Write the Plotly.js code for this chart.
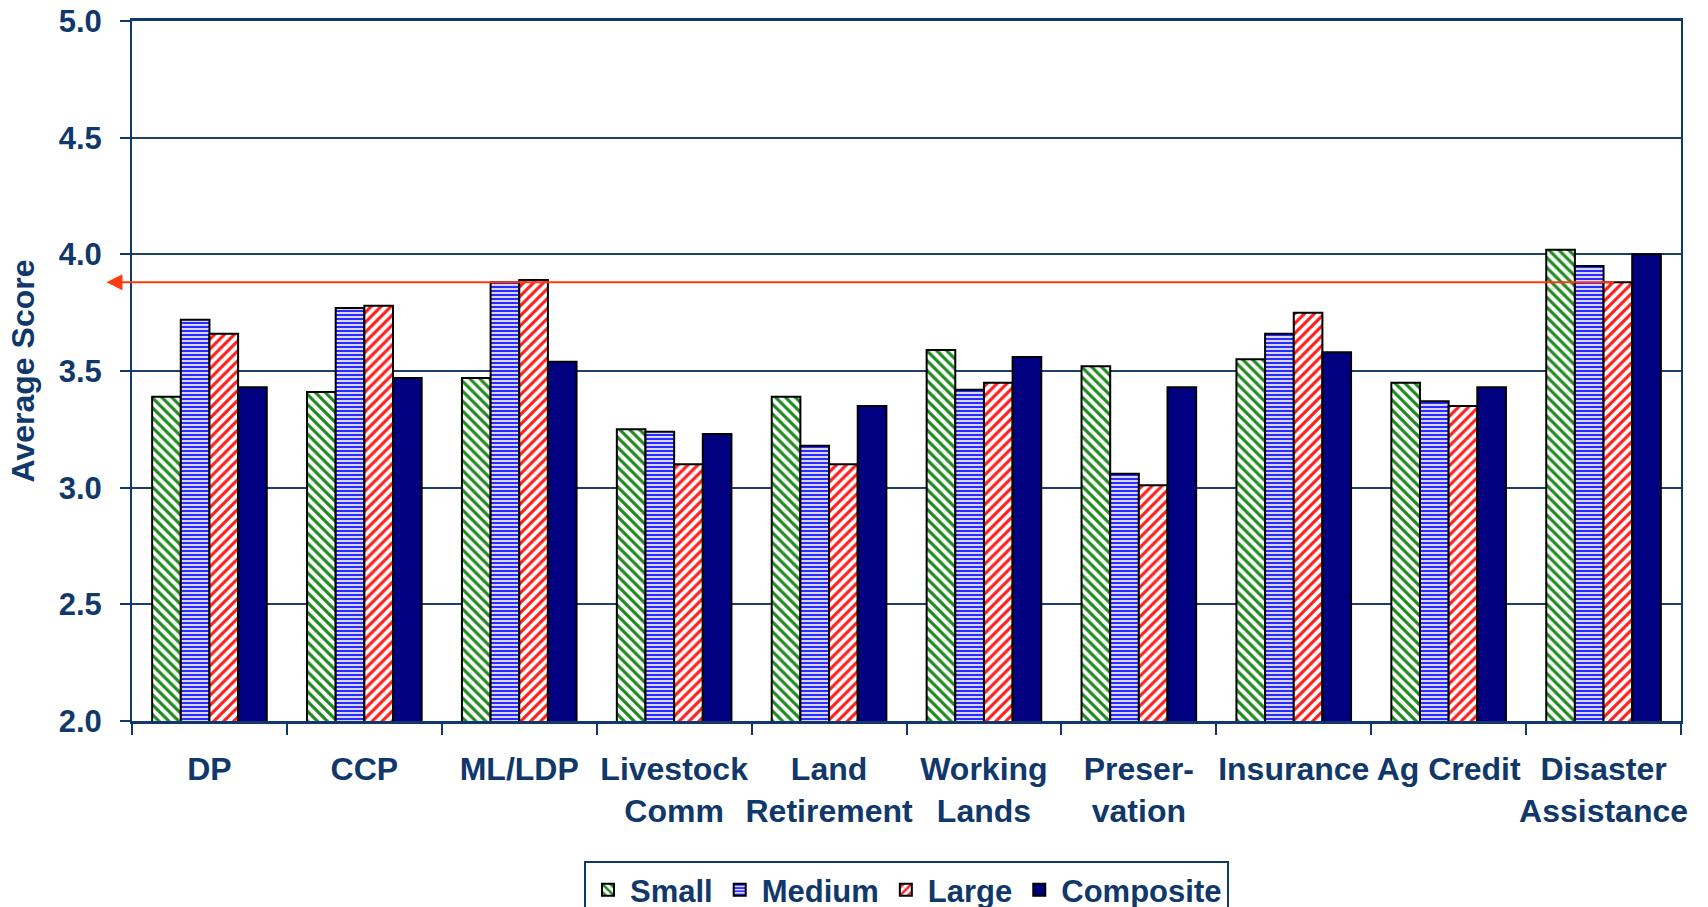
<!DOCTYPE html>
<html>
<head>
<meta charset="utf-8">
<script src="https://cdn.plot.ly/plotly-3.0.1.min.js"></script>
<style>
  html, body { margin: 0; padding: 0; background: #ffffff; }
  #chart { width: 1708px; height: 907px; }
</style>
</head>
<body>
<div id="chart"></div>
<script>
// ---- data ----
const categories = ['DP', 'CCP', 'ML/LDP', 'Livestock Comm', 'Land Retirement',
  'Working Lands', 'Preservation', 'Insurance', 'Ag Credit', 'Disaster Assistance'];
const tickLabels = ['DP', 'CCP', 'ML/LDP', 'Livestock<br>Comm', 'Land<br>Retirement',
  'Working<br>Lands', 'Preser-<br>vation', 'Insurance', 'Ag Credit', 'Disaster<br>Assistance'];
const small     = [3.39, 3.41, 3.47, 3.25, 3.39, 3.59, 3.52, 3.55, 3.45, 4.02];
const medium    = [3.72, 3.77, 3.88, 3.24, 3.18, 3.42, 3.06, 3.66, 3.37, 3.95];
const large     = [3.66, 3.78, 3.89, 3.10, 3.10, 3.45, 3.01, 3.75, 3.35, 3.88];
const composite = [3.43, 3.47, 3.54, 3.23, 3.35, 3.56, 3.43, 3.58, 3.43, 4.00];
const referenceLevel = 3.88;
const yTickVals = [2.0, 2.5, 3.0, 3.5, 4.0, 4.5, 5.0];

// ---- styles ----
const NAVY_TEXT = '#10386A';
const FONT = 'Liberation Sans, Arial, Helvetica, sans-serif';
const outline = { color: '#000000', width: 2 };

const traces = [
  { name: 'Small', y: small,
    marker: { color: '#ffffff', line: outline,
      pattern: { shape: '\\', fgcolor: '#1E8A1E', bgcolor: '#ffffff', size: 7, solidity: 0.45, fillmode: 'replace' } } },
  { name: 'Medium', y: medium,
    marker: { color: '#ffffff', line: outline,
      pattern: { shape: '-', fgcolor: '#2B2BFF', bgcolor: '#D6D6FF', size: 4, solidity: 0.5, fillmode: 'replace' } } },
  { name: 'Large', y: large,
    marker: { color: '#ffffff', line: outline,
      pattern: { shape: '/', fgcolor: '#FF1E1E', bgcolor: '#ffffff', size: 7, solidity: 0.45, fillmode: 'replace' } } },
  { name: 'Composite', y: composite,
    marker: { color: '#000080', line: outline } }
].map(t => Object.assign({ type: 'bar', x: categories, hoverinfo: 'x+y+name' }, t));

const layout = {
  width: 1708, height: 907,
  paper_bgcolor: '#ffffff', plot_bgcolor: '#ffffff',
  margin: { l: 132, r: 27, t: 21, b: 186, autoexpand: false },
  barmode: 'group', bargap: 0.26, bargroupgap: 0,
  font: { family: FONT, color: NAVY_TEXT, size: 30, weight: 700 },
  showlegend: true,
  legend: {
    orientation: 'h', x: 0.5, xanchor: 'center', y: -0.2, yanchor: 'top',
    bordercolor: NAVY_TEXT, borderwidth: 2, bgcolor: '#ffffff',
    font: { family: FONT, size: 31, color: NAVY_TEXT, weight: 700 },
    traceorder: 'normal', itemsizing: 'constant', itemwidth: 34
  },
  xaxis: {
    type: 'category', categoryorder: 'array', categoryarray: categories,
    tickmode: 'array', tickvals: categories, ticktext: tickLabels, tickangle: 0,
    tickson: 'boundaries', ticks: 'outside', ticklen: 11, tickwidth: 2, tickcolor: NAVY_TEXT,
    showline: true, linecolor: NAVY_TEXT, linewidth: 3, mirror: true,
    showgrid: false, ticklabelstandoff: 18,
    tickfont: { family: FONT, size: 32, color: NAVY_TEXT, weight: 700 },
    fixedrange: true
  },
  yaxis: {
    range: [2, 5], tickmode: 'array', tickvals: yTickVals, tickformat: '.1f',
    ticks: 'outside', ticklen: 10, tickwidth: 2, tickcolor: NAVY_TEXT,
    showline: true, linecolor: NAVY_TEXT, linewidth: 2, mirror: true,
    showgrid: true, gridcolor: '#1C3F70', gridwidth: 2, zeroline: false,
    ticklabelstandoff: 12,
    tickfont: { family: FONT, size: 31, color: NAVY_TEXT, weight: 700 },
    title: { text: 'Average Score', standoff: 14,
      font: { family: FONT, size: 32, color: NAVY_TEXT, weight: 700 } },
    fixedrange: true
  },
  annotations: [{
    xref: 'paper', yref: 'y', x: -0.0165, y: referenceLevel,
    axref: 'pixel', ayref: 'pixel', ax: 1509, ay: 0,
    text: '', showarrow: true, arrowhead: 2, arrowsize: 1.6, arrowwidth: 2,
    arrowcolor: '#FF3A10', arrowside: 'end'
  }]
};

Plotly.newPlot('chart', traces, layout, { displayModeBar: false, staticPlot: true });
</script>
</body>
</html>
